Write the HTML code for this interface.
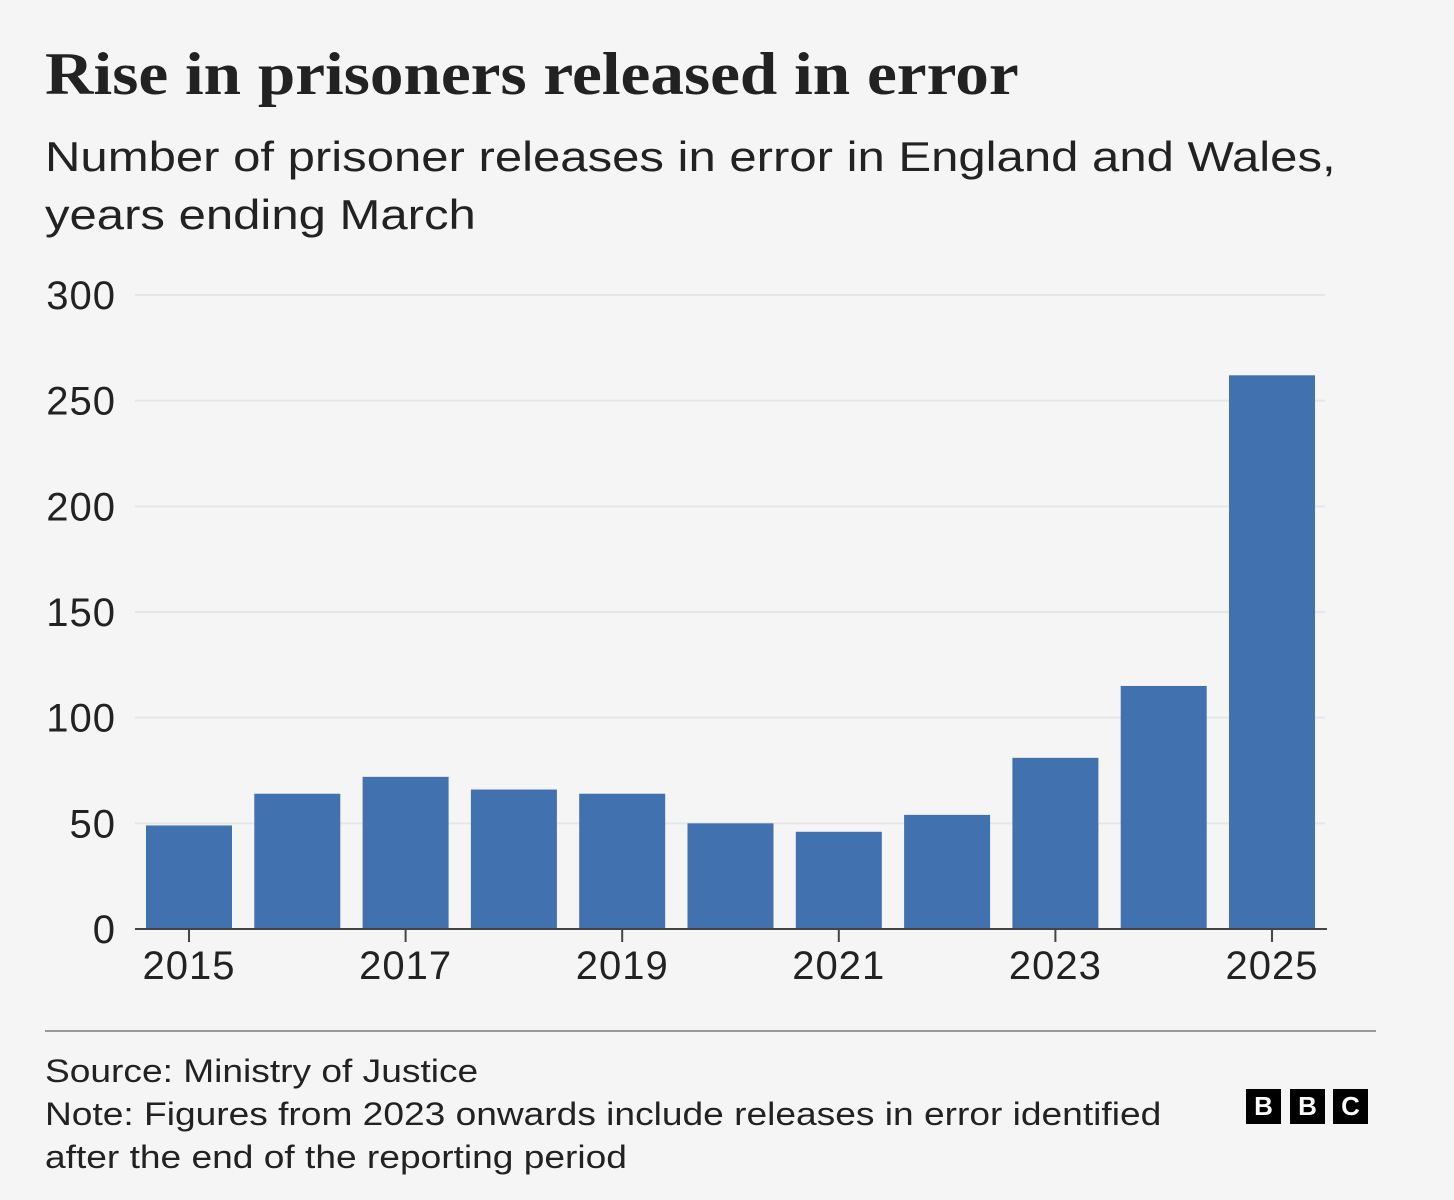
<!DOCTYPE html>
<html><head><meta charset="utf-8"><style>
html,body{margin:0;padding:0;background:#f5f5f5;}
body{width:1454px;height:1200px;position:relative;overflow:hidden;font-family:"Liberation Sans",sans-serif;color:#222;}
.t{position:absolute;white-space:nowrap;transform-origin:0 0;}
</style></head><body>
<div class="t" style="left:45px;top:40px;font-family:'Liberation Serif',serif;font-weight:bold;font-size:60px;color:#222;transform:scaleX(1.12);">Rise in prisoners released in error</div>
<div class="t" style="left:45px;top:128px;font-size:42px;line-height:58px;color:#222;transform:scaleX(1.168);">Number of prisoner releases in error in England and Wales,<br>years ending March</div>
<svg id="chart" width="1454" height="1200" style="position:absolute;left:0;top:0;" xmlns="http://www.w3.org/2000/svg"></svg>
<div style="position:absolute;left:45px;top:1030px;width:1331px;height:2px;background:#999;"></div>
<div class="t" style="left:45px;top:1050px;font-size:32px;line-height:43px;color:#222;transform:scaleX(1.16);">Source: Ministry of Justice<br>Note: Figures from 2023 onwards include releases in error identified<br>after the end of the reporting period</div>
<div style="position:absolute;left:1246px;top:1089px;">
<div style="position:absolute;left:0;width:35px;height:35px;background:#000;color:#fff;font-weight:bold;font-size:26px;text-align:center;line-height:35px;">B</div>
<div style="position:absolute;left:44px;width:35px;height:35px;background:#000;color:#fff;font-weight:bold;font-size:26px;text-align:center;line-height:35px;">B</div>
<div style="position:absolute;left:87px;width:35px;height:35px;background:#000;color:#fff;font-weight:bold;font-size:26px;text-align:center;line-height:35px;">C</div>
</div>
<script>
const years = [2015,2016,2017,2018,2019,2020,2021,2022,2023,2024,2025];
const values = [49,64,72,66,64,50,46,54,81,115,262];
const yTicks = [0,50,100,150,200,250,300];
const xLabels = [2015,2017,2019,2021,2023,2025];
const svg = document.getElementById('chart');
const NS = 'http://www.w3.org/2000/svg';
const x0 = 146, step = 108.3, bw = 86, yBase = 929, yTop = 295, yMax = 300;
const y = v => yBase - (v / yMax) * (yBase - yTop);
const xc = i => x0 + i * step + bw / 2;
function mk(tag, attrs){const e=document.createElementNS(NS,tag);for(const k in attrs)e.setAttribute(k,attrs[k]);svg.appendChild(e);return e;}
yTicks.forEach(v=>{
  if(v>0){const g=mk('line',{x1:135,x2:1325,y1:y(v),y2:y(v),stroke:'#e6e6e6','stroke-width':2});
  
  }
  const t=mk('text',{x:116,y:y(v)+14,'text-anchor':'end','font-size':40,'letter-spacing':1,fill:'#222','font-family':'Liberation Sans, sans-serif'});
  t.textContent=v;
  
  
});
years.forEach((yr,i)=>{
  const r=mk('rect',{x:x0+i*step,y:y(values[i]),width:bw,height:yBase-y(values[i]),fill:'#4271b0'});
  
  
});
const ax=mk('line',{x1:135,x2:1327,y1:yBase,y2:yBase,stroke:'#444','stroke-width':2});


xLabels.forEach(yr=>{
  const i=years.indexOf(yr);
  const tk=mk('line',{x1:xc(i),x2:xc(i),y1:yBase,y2:yBase+13,stroke:'#444','stroke-width':2});
  
  
  const t=mk('text',{x:xc(i),y:yBase+50,'text-anchor':'middle','font-size':40,'letter-spacing':1,fill:'#222','font-family':'Liberation Sans, sans-serif'});
  t.textContent=yr;
  
  
});
</script>
</body></html>
